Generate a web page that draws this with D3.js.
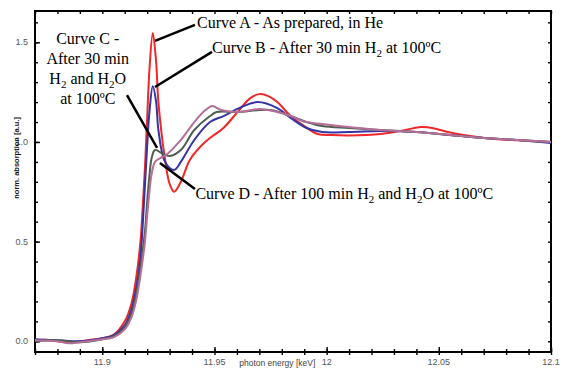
<!DOCTYPE html>
<html>
<head>
<meta charset="utf-8">
<script src="https://cdn.jsdelivr.net/npm/d3@7"></script>
<style>
  body { margin: 0; background: #fff; }
  svg { display: block; }
</style>
</head>
<body>
<div id="chart"></div>
<script>
// photon energy [keV] / norm. absorption
let curveA = [
    [11.870, 0.005], [11.875, 0.008], [11.880, 0.0], [11.885, -0.006], [11.890, 0.0],
    [11.895, 0.008], [11.900, 0.015], [11.905, 0.032], [11.910, 0.10], [11.913, 0.19],
    [11.915, 0.31], [11.917, 0.50], [11.918, 0.67], [11.919, 0.87], [11.920, 1.12],
    [11.921, 1.36], [11.9225, 1.547], [11.924, 1.40], [11.925, 1.20], [11.928, 0.91],
    [11.930, 0.79], [11.932, 0.75], [11.935, 0.80], [11.939, 0.91], [11.944, 0.98],
    [11.948, 1.02], [11.954, 1.07], [11.961, 1.16], [11.966, 1.22], [11.970, 1.24],
    [11.974, 1.23], [11.978, 1.20], [11.984, 1.13], [11.990, 1.08], [11.996, 1.04],
    [12.002, 1.035], [12.010, 1.033], [12.024, 1.04], [12.035, 1.06], [12.042, 1.075],
    [12.048, 1.068], [12.054, 1.05], [12.064, 1.03], [12.075, 1.015], [12.085, 1.008],
    [12.100, 1.0]
];
let curveB = [
    [11.870, 0.01], [11.880, 0.005], [11.890, 0.0], [11.900, 0.015], [11.905, 0.03],
    [11.910, 0.08], [11.913, 0.16], [11.915, 0.26], [11.917, 0.42], [11.918, 0.58],
    [11.919, 0.78], [11.920, 0.98], [11.921, 1.15], [11.9225, 1.28], [11.924, 1.20],
    [11.925, 1.06], [11.928, 0.90], [11.932, 0.86], [11.935, 0.90], [11.941, 1.01],
    [11.948, 1.10], [11.954, 1.13], [11.961, 1.17], [11.969, 1.20], [11.978, 1.17],
    [11.984, 1.12], [11.991, 1.07], [11.998, 1.05], [12.010, 1.05], [12.024, 1.055],
    [12.040, 1.05], [12.055, 1.035], [12.070, 1.02], [12.085, 1.01], [12.100, 0.995]
];
let curveC = [
    [11.870, 0.0], [11.880, 0.005], [11.890, -0.005], [11.900, 0.01], [11.905, 0.025],
    [11.910, 0.07], [11.913, 0.14], [11.915, 0.23], [11.917, 0.37], [11.919, 0.55],
    [11.920, 0.70], [11.921, 0.83], [11.922, 0.92], [11.9235, 0.96], [11.927, 0.94],
    [11.930, 0.93], [11.935, 0.96], [11.941, 1.06], [11.948, 1.13], [11.951, 1.15],
    [11.960, 1.15], [11.970, 1.16], [11.975, 1.16], [11.984, 1.13], [11.991, 1.10],
    [11.998, 1.08], [12.010, 1.07], [12.024, 1.06], [12.040, 1.05], [12.055, 1.035],
    [12.070, 1.02], [12.085, 1.01], [12.100, 1.0]
];
let curveD = [
    [11.870, 0.005], [11.880, 0.0], [11.885, -0.01], [11.890, -0.005], [11.900, 0.01],
    [11.905, 0.02], [11.910, 0.06], [11.913, 0.12], [11.915, 0.20], [11.917, 0.33],
    [11.919, 0.50], [11.920, 0.63], [11.921, 0.75], [11.922, 0.84], [11.9235, 0.90],
    [11.926, 0.92], [11.929, 0.94], [11.935, 1.01], [11.941, 1.10], [11.946, 1.16],
    [11.949, 1.18], [11.953, 1.16], [11.961, 1.15], [11.970, 1.165], [11.978, 1.15],
    [11.984, 1.13], [11.991, 1.10], [11.998, 1.09], [12.010, 1.075], [12.024, 1.06],
    [12.040, 1.05], [12.055, 1.035], [12.070, 1.02], [12.085, 1.01], [12.100, 1.0]
];

let xMajor = [11.9, 11.95, 12, 12.05, 12.1];
let xLabels = ["11.9", "11.95", "12", "12.05", "12.1"];
let yMajor = [0, 0.5, 1.0, 1.5];
let yLabels = ["0.0", "0.5", "1.0", "1.5"];

var width = 562;
var height = 369;
var margin = { top: 11, right: 11, bottom: 17, left: 35 };

var svg = d3.select("#chart")
    .append("svg")
    .attr("width", width)
    .attr("height", height);

var x = d3.scaleLinear()
    .domain([11.87, 12.1])
    .range([margin.left, width - margin.right]);

var y = d3.scaleLinear()
    .domain([-0.0537, 1.657])
    .range([height - margin.bottom, margin.top]);

var xMinor = d3.range(11.87, 12.1001, 0.01);
var yMinor = d3.range(0, 1.65, 0.1);

// frame
svg.append("rect")
    .attr("x", x(11.87))
    .attr("y", y(1.657))
    .attr("width", x(12.1) - x(11.87))
    .attr("height", y(-0.0537) - y(1.657))
    .attr("fill", "none")
    .attr("stroke", "#000")
    .attr("stroke-width", 2);

// axes with inward ticks
function tickAxis(axis, scale, ticks, size) {
    return axis(scale).tickValues(ticks).tickSize(size).tickFormat("").tickSizeOuter(0);
}

var bottomAxis = svg.append("g").attr("transform", "translate(0," + y(-0.0537) + ")");
bottomAxis.call(tickAxis(d3.axisBottom, x, xMinor, 3));
bottomAxis.append("g").call(tickAxis(d3.axisTop, x, xMinor, 3));
bottomAxis.append("g").call(tickAxis(d3.axisTop, x, xMajor, 5));

var topAxis = svg.append("g").attr("transform", "translate(0," + y(1.657) + ")");
topAxis.call(tickAxis(d3.axisBottom, x, xMinor, 3));

var leftAxis = svg.append("g").attr("transform", "translate(" + x(11.87) + ",0)");
leftAxis.call(tickAxis(d3.axisRight, y, yMinor, 3));
leftAxis.append("g").call(tickAxis(d3.axisRight, y, yMajor, 5));

var rightAxis = svg.append("g").attr("transform", "translate(" + x(12.1) + ",0)");
rightAxis.call(tickAxis(d3.axisLeft, y, yMinor, 3));

svg.selectAll(".domain").remove();
svg.selectAll(".tick line").attr("stroke", "#000").attr("stroke-width", 1.4);

// tick labels
svg.selectAll(".xlab")
    .data(xMajor)
    .enter()
    .append("text")
    .attr("x", function (d) { return x(d); })
    .attr("y", y(-0.0537) + 13)
    .attr("text-anchor", "middle")
    .attr("font-family", "Liberation Sans, Arial, sans-serif")
    .attr("font-size", 9)
    .attr("fill", "#555")
    .text(function (d, i) { return xLabels[i]; });

svg.selectAll(".ylab")
    .data(yMajor)
    .enter()
    .append("text")
    .attr("x", x(11.87) - 7)
    .attr("y", function (d) { return y(d) + 3; })
    .attr("text-anchor", "end")
    .attr("font-family", "Liberation Sans, Arial, sans-serif")
    .attr("font-size", 9)
    .attr("fill", "#555")
    .text(function (d, i) { return yLabels[i]; });

svg.append("text")
    .attr("x", x(11.978))
    .attr("y", 366)
    .attr("text-anchor", "middle")
    .attr("font-family", "Liberation Sans, Arial, sans-serif")
    .attr("font-size", 8.5)
    .attr("fill", "#444")
    .text("photon energy [keV]");

svg.append("text")
    .attr("transform", "translate(19," + y(0.92) + ") rotate(-90)")
    .attr("text-anchor", "middle")
    .attr("font-family", "Liberation Sans, Arial, sans-serif")
    .attr("font-size", 7.5)
    .attr("font-weight", "bold")
    .attr("fill", "#111")
    .text("norm. absorption [a.u.]");

// curves
var line = d3.line()
    .x(function (d) { return x(d[0]); })
    .y(function (d) { return y(d[1]); })
    .curve(d3.curveCatmullRom.alpha(0.5));

var series = [
    { data: curveA, color: "#f02828" },
    { data: curveB, color: "#3434a4" },
    { data: curveC, color: "#4e5e4e" },
    { data: curveD, color: "#b46e98" }
];

svg.selectAll(".curve")
    .data(series)
    .enter()
    .append("path")
    .attr("d", function (d) { return line(d.data); })
    .attr("fill", "none")
    .attr("stroke", function (d) { return d.color; })
    .attr("stroke-width", 2);

// leader lines
let leaders = [
    [[11.9235, 1.507], [11.9413, 1.587]],
    [[11.9235, 1.276], [11.9489, 1.452]],
    [[11.9110, 1.235], [11.9244, 0.970]],
    [[11.9257, 0.895], [11.9413, 0.764]]
];

svg.selectAll(".leader")
    .data(leaders)
    .enter()
    .append("line")
    .attr("x1", function (d) { return x(d[0][0]); })
    .attr("y1", function (d) { return y(d[0][1]); })
    .attr("x2", function (d) { return x(d[1][0]); })
    .attr("y2", function (d) { return y(d[1][1]); })
    .attr("stroke", "#000")
    .attr("stroke-width", 2.5);

// annotation text, pieces: [text, isSubscript]
function label(px, py, anchor, parts) {
    var t = svg.append("text")
        .attr("x", px)
        .attr("y", py)
        .attr("text-anchor", anchor)
        .attr("font-family", "Liberation Serif, Times New Roman, serif")
        .attr("font-size", 16)
        .attr("fill", "#000");
    parts.forEach(function (p) {
        var s = t.append("tspan").text(p[0]);
        if (p[1]) s.attr("font-size", 11).attr("baseline-shift", "-4");
    });
}

label(x(11.9422), y(1.57), "start", [["Curve A - As prepared, in He"]]);
label(x(11.9489), y(1.445), "start", [["Curve B - After 30 min H"], ["2", 1], [" at 100ºC"]]);
label(x(11.8935), y(1.49), "middle", [["Curve C -"]]);
label(x(11.8935), y(1.39), "middle", [["After 30 min"]]);
label(x(11.8935), y(1.29), "middle", [["H"], ["2", 1], [" and H"], ["2", 1], ["O"]]);
label(x(11.8935), y(1.19), "middle", [["at 100ºC"]]);
label(x(11.9415), y(0.715), "start", [["Curve D - After 100 min H"], ["2", 1], [" and H"], ["2", 1], ["O at 100ºC"]]);
</script>
</body>
</html>
